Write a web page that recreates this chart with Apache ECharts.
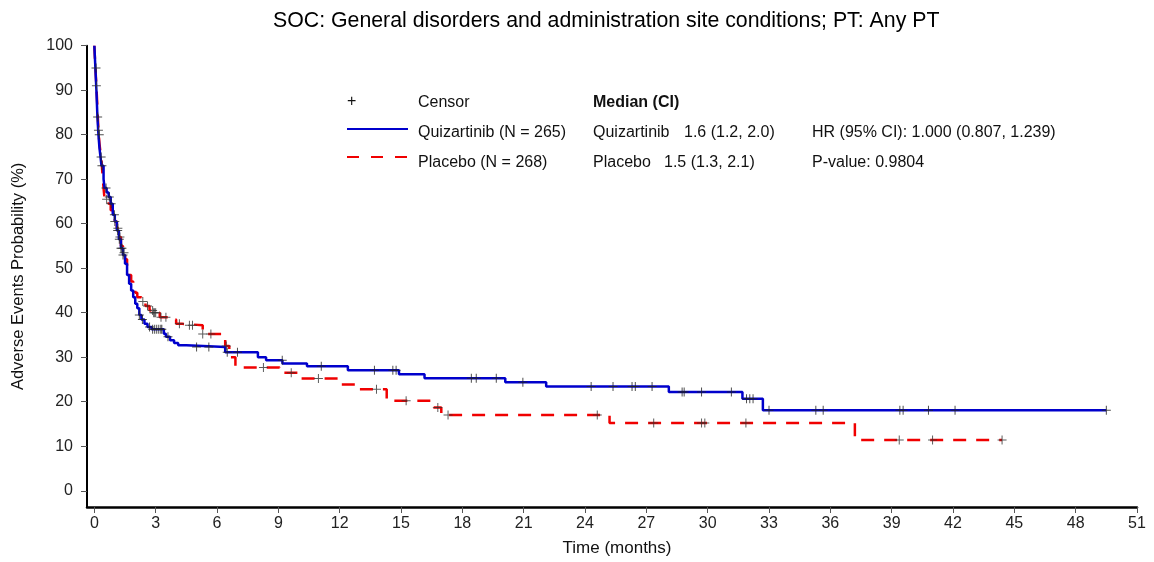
<!DOCTYPE html>
<html>
<head>
<meta charset="utf-8">
<script src="https://cdn.jsdelivr.net/npm/echarts@6/dist/echarts.min.js"></script>
<style>
html,body{margin:0;padding:0;background:#fff;}
#chart{width:1154px;height:562px;}
</style>
</head>
<body>
<div id="chart"></div>
<script>
// ---- Data ----
const xTicks = [0,3,6,9,12,15,18,21,24,27,30,33,36,39,42,45,48,51];
const yTicks = [0,10,20,30,40,50,60,70,80,90,100];

// Quizartinib KM curve (time in months, probability %)
const quizTimes = [0,0.05,0.1,0.15,0.2,0.25,0.3,0.35,0.45,0.5,0.6,0.7,0.8,0.9,1.0,1.1,1.2,1.3,1.4,1.5,1.6,1.7,1.8,1.9,2.0,2.1,2.2,2.3,2.45,2.6,2.8,3.4,3.5,3.7,3.9,4.1,4.5,6.4,8.0,8.4,9.2,10.4,12.4,14.9,16.15,20.1,22.1,28.1,31.7,32.7,49.5];
const quizSurv  = [100,95,90,84,80,77,75,73,70,68,67,66,64.5,62,60.5,58.5,56.5,54.5,53,51,48.5,46.5,45,43.5,42,41,39.5,38.5,37.5,36.8,36.3,35.3,34.6,33.8,33.2,32.7,32.3,31.1,30.0,29.3,28.6,28.0,27.1,26.2,25.3,24.4,23.4,22.2,20.7,18.1,18.1];

// Placebo KM curve
const placTimes = [0,0.05,0.1,0.15,0.2,0.25,0.3,0.35,0.4,0.45,0.5,0.7,0.8,0.9,1.0,1.1,1.2,1.3,1.4,1.5,1.6,1.7,1.8,1.9,2.0,2.1,2.3,2.5,2.7,2.9,3.2,3.6,4.0,4.3,5.3,6.4,6.6,6.9,9.06,9.95,12.0,12.9,14.3,16.6,16.97,25.2,37.2,44.4];
const placSurv  = [100,95,91,86,81,78,76,74,71,68,65.5,64.5,63,62,60.5,59,57,55,53.5,52,50.5,48.5,47,45.5,44.5,43.5,42.5,41.5,40.5,40,39,38.5,37.5,37.2,35.2,32.5,30.0,27.7,26.5,25.2,23.9,22.8,20.2,18.7,17.0,15.2,11.4,11.4];

// Censor times
const quizCensor = [0.08,0.16,0.24,0.33,0.37,0.57,0.73,0.82,0.98,1.14,1.22,1.3,1.35,1.4,2.2,2.35,2.7,2.85,2.95,3.05,3.15,3.25,3.3,3.6,5.0,5.6,6.5,7.0,9.19,11.1,13.7,14.6,14.76,18.44,18.68,19.66,20.96,24.3,25.37,26.3,26.46,27.28,28.75,28.85,29.7,31.16,31.9,32.06,32.22,33.0,35.29,35.65,39.4,39.56,40.8,42.1,49.5];
const placCensor = [0.1,0.2,0.6,1.0,1.15,1.25,1.45,2.37,2.6,2.85,2.9,2.95,3.0,3.26,3.5,4.16,4.65,4.8,5.3,5.7,6.45,8.27,9.63,10.96,13.8,15.25,16.8,17.3,24.6,27.36,29.7,29.86,31.87,39.37,41.0,44.4];

const seriesNames = ['Quizartinib (N = 265)', 'Placebo (N = 268)'];
const titleText = 'SOC: General disorders and administration site conditions; PT: Any PT';

// ---- helpers ----
function zip(ts, vs){ return ts.map((t,i)=>[t, vs[i]]); }
function stepAt(ts, vs, t){ let v = vs[0]; for (let i=0;i<ts.length;i++){ if (ts[i] <= t) v = vs[i]; } return v; }
function censorData(cs, ts, vs){ return cs.map(t => [t, stepAt(ts, vs, t)]); }

const FONT = '"Liberation Sans", Arial, sans-serif';
const BLUE = '#0000CC';
const RED = '#F00000';
const plusPath = 'path://M4,0 H5 V4 H9 V5 H5 V9 H4 V5 H0 V4 H4 Z';

const chart = echarts.init(document.getElementById('chart'), null, {renderer:'canvas'});
const legendText = {fontFamily: FONT, fontSize: 16, fill: '#111', textVerticalAlign: 'middle'};
chart.setOption({
  animation: false,
  backgroundColor: '#fff',
  title: {
    text: titleText, left: 268, top: 6,
    textStyle: {fontFamily: FONT, fontSize: 21.3, fontWeight: 'normal', color: '#000'}
  },
  grid: {left: 87, right: 17, top: 45.7, bottom: 54, containLabel: false},
  xAxis: {
    type: 'value', min: -0.36, max: 51,
    name: 'Time (months)', nameLocation: 'middle', nameGap: 33,
    nameTextStyle: {fontFamily: FONT, fontSize: 17, color: '#111', padding: [0, 0, 0, 10]},
    axisLine: {show: true, onZero: false, lineStyle: {color: '#000', width: 2.5}},
    axisTick: {show: true, length: 6, customValues: xTicks, lineStyle: {color: '#555', width: 1}},
    axisLabel: {customValues: xTicks, margin: 9, fontFamily: FONT, fontSize: 16, color: '#222'},
    splitLine: {show: false}
  },
  yAxis: {
    type: 'value', min: -3.65, max: 100,
    name: 'Adverse Events Probability (%)', nameLocation: 'middle', nameGap: 60,
    nameTextStyle: {fontFamily: FONT, fontSize: 16.5, color: '#111'},
    axisLine: {show: true, onZero: false, lineStyle: {color: '#000', width: 2}},
    axisTick: {show: true, length: 6, customValues: yTicks, lineStyle: {color: '#555', width: 1}},
    axisLabel: {customValues: yTicks, margin: 14, fontFamily: FONT, fontSize: 16, color: '#222'},
    splitLine: {show: false}
  },
  series: [
    {
      name: seriesNames[1], type: 'line', step: 'end', showSymbol: false, z: 2,
      data: zip(placTimes, placSurv),
      lineStyle: {color: RED, width: 2.5, type: [13, 10]}
    },
    {
      name: seriesNames[0], type: 'line', step: 'end', showSymbol: false, z: 3,
      data: zip(quizTimes, quizSurv),
      lineStyle: {color: BLUE, width: 2.5}
    },
    {
      name: 'Censor Placebo', type: 'scatter', symbol: plusPath, symbolSize: 9, z: 4,
      data: censorData(placCensor, placTimes, placSurv),
      itemStyle: {color: '#333'}
    },
    {
      name: 'Censor Quizartinib', type: 'scatter', symbol: plusPath, symbolSize: 9, z: 4,
      data: censorData(quizCensor, quizTimes, quizSurv),
      itemStyle: {color: '#222'}
    }
  ],
  graphic: [
    {type: 'text', left: 347, top: 94, style: {text: '+', fontFamily: FONT, fontSize: 16, fill: '#111'}},
    {type: 'text', x: 418, y: 103, style: Object.assign({text: 'Censor'}, legendText)},
    {type: 'text', x: 593, y: 103, style: Object.assign({}, legendText, {text: 'Median (CI)', fontWeight: 'bold'})},
    {type: 'line', shape: {x1: 347, y1: 129, x2: 408, y2: 129}, style: {stroke: BLUE, lineWidth: 2}},
    {type: 'text', x: 418, y: 133, style: Object.assign({text: seriesNames[0]}, legendText)},
    {type: 'text', x: 593, y: 133, style: Object.assign({text: 'Quizartinib'}, legendText)},
    {type: 'text', x: 684, y: 133, style: Object.assign({text: '1.6 (1.2, 2.0)'}, legendText)},
    {type: 'text', x: 812, y: 133, style: Object.assign({text: 'HR (95% CI): 1.000 (0.807, 1.239)'}, legendText)},
    {type: 'line', shape: {x1: 347, y1: 157, x2: 408, y2: 157}, style: {stroke: RED, lineWidth: 2, lineDash: [12, 12]}},
    {type: 'text', x: 418, y: 163, style: Object.assign({text: seriesNames[1]}, legendText)},
    {type: 'text', x: 593, y: 163, style: Object.assign({text: 'Placebo'}, legendText)},
    {type: 'text', x: 664, y: 163, style: Object.assign({text: '1.5 (1.3, 2.1)'}, legendText)},
    {type: 'text', x: 812, y: 163, style: Object.assign({text: 'P-value: 0.9804'}, legendText)}
  ]
});
</script>
</body>
</html>
